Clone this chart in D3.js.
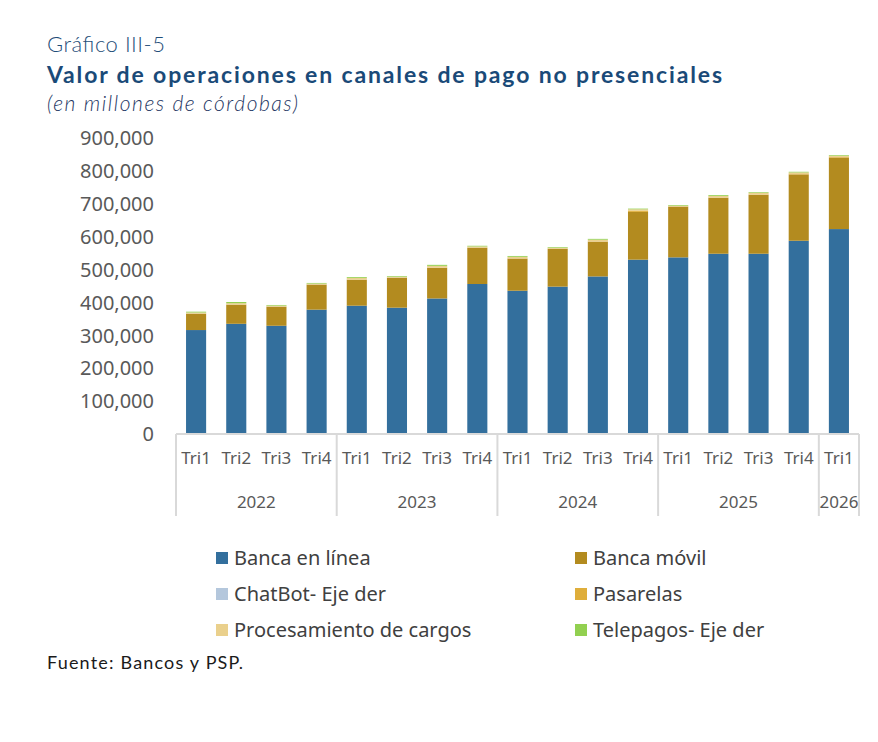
<!DOCTYPE html>
<html>
<head>
<meta charset="utf-8">
<script src="https://cdn.jsdelivr.net/npm/d3@7"></script>
<style>
  body { margin: 0; background: #fff; }
  svg { display: block; }
</style>
</head>
<body>
<div class="container"></div>
<script>
const WIDTH = 878;
const HEIGHT = 742;

// values, millones de cordobas
var quarters = ["Tri1","Tri2","Tri3","Tri4","Tri1","Tri2","Tri3","Tri4","Tri1","Tri2","Tri3","Tri4","Tri1","Tri2","Tri3","Tri4","Tri1"];
var years = ["2022","2023","2024","2025","2026"];
var yearCounts = [4,4,4,4,1];

var bancaLinea   = [317000,336000,330000,379000,391000,385000,413000,457000,436500,449000,480000,531000,538000,549000,549000,588500,624000];
var bancaMovil   = [49600,58000,58000,76000,79000,91000,93000,110000,97500,115000,105500,145000,154000,170000,179000,201500,217000];
var chatBot      = [200,200,200,200,200,200,200,200,200,200,200,200,200,200,200,200,200];
var pasarelas    = [500,500,500,500,500,500,1000,1000,1000,1000,1000,4000,1000,1000,1000,3000,3500];
var procesamiento= [3000,4000,2500,2500,5000,2500,5000,3000,4500,2000,5000,4000,2000,4500,5000,3000,2500];
var telepagos    = [2500,3500,2000,2000,2500,2000,3000,2000,2500,2000,2500,2000,2000,2500,2000,2000,2000];

var yTicks = [0,100000,200000,300000,400000,500000,600000,700000,800000,900000];

var seriesNames = ["Banca en línea","Banca móvil","ChatBot- Eje der","Pasarelas","Procesamiento de cargos","Telepagos- Eje der"];
var seriesColors = ["#336f9d","#b38b1f","#b4c7dc","#dfae3b","#ead08c","#92d050"];

var generateChart = function(){
    var seriesValues = [bancaLinea,bancaMovil,chatBot,pasarelas,procesamiento,telepagos];
    var table = quarters.map(function(q,i){
        var row = {idx:i};
        seriesNames.forEach(function(s,k){ row[s] = seriesValues[k][i]; });
        return row;
    });

    var svg = d3.select('.container')
        .append('svg')
        .attr("width",WIDTH)
        .attr("height",HEIGHT)
        .style("background","#fff");

    // headings
    svg.append("text")
        .attr("x",47).attr("y",52)
        .attr("font-family","Lato").attr("font-weight",300)
        .attr("font-size",22).attr("fill","#1f4e79")
        .attr("textLength",118).attr("lengthAdjust","spacing")
        .text("Gráfico III-5");

    svg.append("text")
        .attr("x",47).attr("y",83)
        .attr("font-family","Lato").attr("font-weight",700)
        .attr("font-size",23).attr("fill","#1a4a78")
        .attr("textLength",675).attr("lengthAdjust","spacing")
        .text("Valor de operaciones en canales de pago no presenciales");

    svg.append("text")
        .attr("x",47).attr("y",111)
        .attr("font-family","Lato").attr("font-style","italic").attr("font-weight",300)
        .attr("font-size",21).attr("fill","#1f3864")
        .attr("textLength",251).attr("lengthAdjust","spacing")
        .text("(en millones de córdobas)");

    var x = d3.scaleBand()
        .domain(quarters.map(function(q,i){ return i; }))
        .range([176,859])
        .paddingInner(0.5)
        .paddingOuter(0.25);

    var y = d3.scaleLinear().domain([0,900000]).range([434.3,138.3]);

    var layers = d3.stack().keys(seriesNames)(table);

    svg.append("g").selectAll("g")
        .data(layers)
        .enter().append("g")
        .attr("fill",function(d,i){ return seriesColors[i]; })
        .selectAll("rect")
        .data(function(d){ return d; })
        .enter().append("rect")
        .attr("x",function(d){ return x(d.data.idx); })
        .attr("width",x.bandwidth())
        .attr("y",function(d){ return y(d[1]); })
        .attr("height",function(d){ return y(d[0]) - y(d[1]); });

    // y axis, labels only
    var yAxis = svg.append("g")
        .attr("transform","translate(154,0)")
        .call(d3.axisLeft(y).tickValues(yTicks).tickSize(0).tickPadding(0)
            .tickFormat(function(d){ return d === 0 ? "0" : d3.format(",")(d); }));
    yAxis.select(".domain").remove();
    yAxis.selectAll("text")
        .attr("font-family","Noto Sans").attr("font-size",20).attr("fill","#595959");

    // category axis
    var xAxis = svg.append("g")
        .attr("transform","translate(0,434)")
        .call(d3.axisBottom(x).tickSize(0).tickPadding(18)
            .tickFormat(function(i){ return quarters[i]; }));
    xAxis.select(".domain").remove();
    xAxis.selectAll("text")
        .attr("font-family","Noto Sans").attr("font-size",17).attr("fill","#595959");

    var step = x.step();
    var axisG = svg.append("g").attr("stroke","#d9d9d9").attr("stroke-width",2);
    axisG.append("line")
        .attr("x1",176).attr("x2",859).attr("y1",434).attr("y2",434);

    var start = 0;
    var bounds = [0];
    yearCounts.forEach(function(c){ start += c; bounds.push(start); });
    axisG.selectAll("line.div")
        .data(bounds)
        .enter().append("line")
        .attr("class","div")
        .attr("x1",function(b){ return 176 + b*step; })
        .attr("x2",function(b){ return 176 + b*step; })
        .attr("y1",434).attr("y2",516);

    svg.append("g").selectAll("text")
        .data(years)
        .enter().append("text")
        .attr("x",function(d,i){ return 176 + (bounds[i] + bounds[i+1])/2*step; })
        .attr("y",508)
        .attr("text-anchor","middle")
        .attr("font-family","Noto Sans").attr("font-size",17).attr("fill","#595959")
        .text(function(d){ return d; });

    // legend
    var legend = svg.append("g").selectAll("g")
        .data(seriesNames)
        .enter().append("g")
        .attr("transform",function(d,i){
            return "translate(" + (i % 2 === 0 ? 216 : 575) + "," + (558 + Math.floor(i/2)*36) + ")";
        });
    legend.append("rect")
        .attr("x",0).attr("y",-6).attr("width",12).attr("height",12)
        .attr("fill",function(d,i){ return seriesColors[i]; });
    legend.append("text")
        .attr("x",18).attr("y",7)
        .attr("font-family","Noto Sans").attr("font-size",20).attr("fill","#404040")
        .text(function(d){ return d; });

    svg.append("text")
        .attr("x",47).attr("y",669)
        .attr("font-family","Lato").attr("font-size",18).attr("fill","#1a1a1a")
        .attr("textLength",196).attr("lengthAdjust","spacing")
        .text("Fuente: Bancos y PSP.");
};

generateChart();
</script>
</body>
</html>
